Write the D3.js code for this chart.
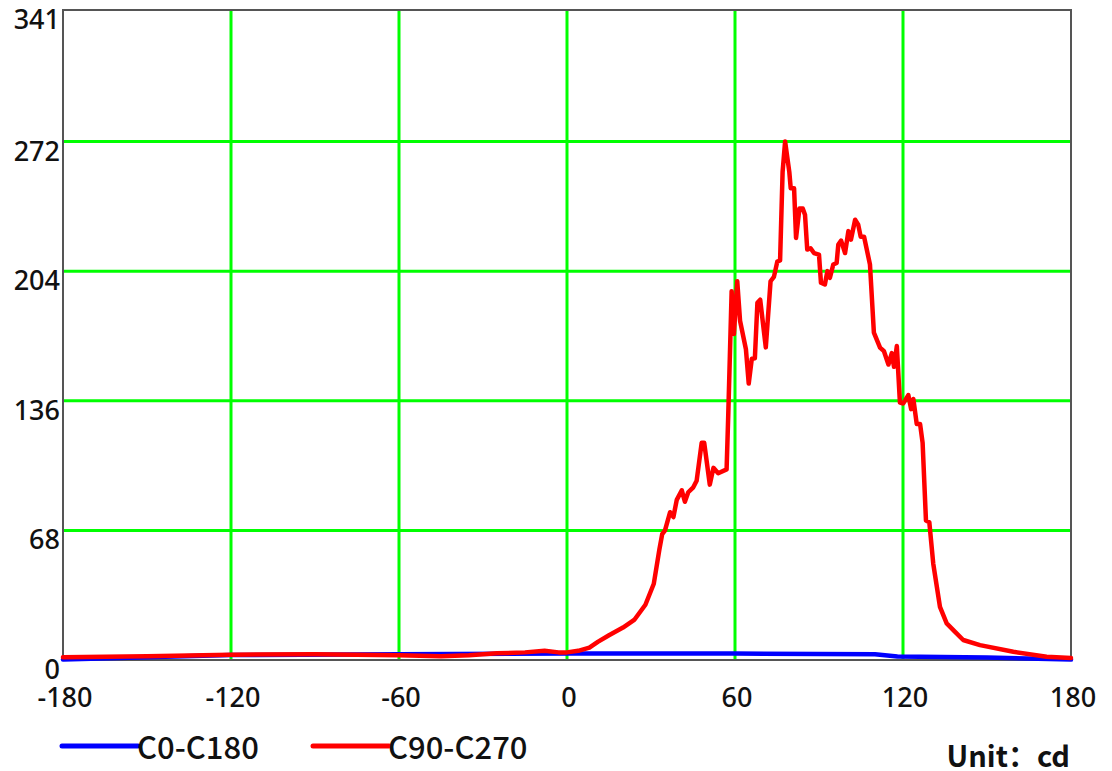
<!DOCTYPE html>
<html lang="en">
<head>
<meta charset="UTF-8">
<title>Light distribution</title>
<script src="https://cdn.jsdelivr.net/npm/d3@7"></script>
<style>
  body { margin: 0; background: #fff; }
  text { font-family: "Noto Sans CJK SC", "Noto Sans", sans-serif; fill: #111; }
  .tick { font-family: "Noto Sans", "DejaVu Sans", sans-serif; }
</style>
</head>
<body>
<script>
// angles (deg) and intensity (cd)
var redAngles = [-180, -150, -120, -90, -60, -45, -35, -25, -15, -8, -3, 0, 4, 8, 11, 15, 20, 24, 28, 31, 33, 34, 35,
  36.8, 38, 39.2, 41, 42.1, 43.3, 45.1, 46.3, 48.1, 49, 51, 52.3, 54, 57, 57.6, 58.8, 59.6, 60.8, 61.8, 63.9, 64.9,
  66, 67.1, 68, 69, 71, 72.7, 73.9, 75.1, 76.1, 77, 77.9, 79.4, 79.9, 81.1, 81.8, 83, 84.2, 85, 85.8, 87, 88.2, 90,
  90.7, 92.1, 93, 93.9, 95.1, 96.3, 96.9, 97.9, 99.3, 100.5, 101.4, 102.9, 104, 104.9, 106.1, 108.2, 109.6, 111.8,
  113.2, 114.8, 116, 116.8, 117.8, 118.9, 120.1, 121.9, 122.9, 123.7, 124.9, 126.1, 127, 128.2, 129.4, 130.8, 133.2,
  135.6, 138.6, 141.5, 147.5, 159.4, 171.3, 180];
var redValues = [1.5, 2, 2.8, 3, 2.5, 2, 2.5, 3.5, 4, 4.8, 4, 4, 4.8, 6.5, 9.5, 13, 17, 21, 29, 40, 58, 66, 68,
  77.5, 75, 84, 89, 83, 88, 90.6, 94, 114, 114, 92, 100.8, 98, 100, 129, 193.5, 171, 198.7, 178, 163, 145,
  158, 158.3, 187.4, 189, 164, 198.7, 201, 209, 209.6, 256, 272, 256, 247.5, 247.5, 221.4, 236.8, 236.8, 233.6, 215.3, 216, 213.5, 212.7,
  197.9, 197, 204, 200.5, 207.5, 208.3, 218, 220, 213.5, 225, 220.5, 231, 228.4, 222, 222, 207.5, 171.7, 163.9,
  162, 155, 161, 153.8, 164.7, 135, 134.6, 139, 131.6, 136.9, 123.8, 123.8, 114, 73.2, 72.3, 50.6, 27.9,
  19.2, 14.8, 10.5, 7.8, 4.3, 1.7, 1];

var blueAngles = [-180, -150, -120, -60, 0, 60, 110, 118, 150, 180];
var blueValues = [0.3, 1.5, 2.6, 3, 3.4, 3.4, 3, 1.8, 1.3, 0.2];

var xTicks = [-180, -120, -60, 0, 60, 120, 180];
var yTicks = [0, 68, 136, 204, 272, 341];

var seriesNames = ["C0-C180", "C90-C270"];
var seriesColors = ["#0000ff", "#ff0000"];

var width = 1112, height = 771;
var plotL = 63, plotR = 1071, plotT = 10, plotB = 660;

var x = d3.scaleLinear().domain([-180, 180]).range([plotL, plotR]);
var y = d3.scaleLinear().domain([0, 341]).range([plotB, plotT]);

var svg = d3.select("body").append("svg")
    .attr("width", width)
    .attr("height", height);

// green grid
svg.append("g")
    .selectAll("line")
    .data(xTicks.filter(d => d > -180 && d < 180))
    .enter().append("line")
    .attr("x1", d => x(d)).attr("x2", d => x(d))
    .attr("y1", plotT).attr("y2", plotB)
    .attr("stroke", "#00ff00").attr("stroke-width", 3);

svg.append("g")
    .selectAll("line")
    .data(yTicks.filter(d => d > 0 && d < 341))
    .enter().append("line")
    .attr("x1", plotL).attr("x2", plotR)
    .attr("y1", d => y(d)).attr("y2", d => y(d))
    .attr("stroke", "#00ff00").attr("stroke-width", 3);

// frame
svg.append("rect")
    .attr("x", plotL).attr("y", plotT)
    .attr("width", plotR - plotL).attr("height", plotB - plotT)
    .attr("fill", "none").attr("stroke", "#555").attr("stroke-width", 2);

// tick labels
svg.append("g")
    .selectAll("text")
    .data(yTicks)
    .enter().append("text")
    .attr("class", "tick")
    .attr("x", plotL - 3)
    .attr("y", d => y(d) + 19)
    .attr("text-anchor", "end")
    .attr("font-size", 27)
    .attr("font-weight", 500)
    .text(d => d);

svg.append("g")
    .selectAll("text")
    .data(xTicks)
    .enter().append("text")
    .attr("class", "tick")
    .attr("x", d => x(d) + 2)
    .attr("y", 707)
    .attr("text-anchor", "middle")
    .attr("font-size", 27)
    .attr("font-weight", 500)
    .text(d => d);

// curves
var line = d3.line()
    .x(d => x(d[0]))
    .y(d => y(d[1]));

var series = [
    d3.zip(blueAngles, blueValues),
    d3.zip(redAngles, redValues)
];

svg.append("g")
    .selectAll("path")
    .data(series)
    .enter().append("path")
    .attr("d", line)
    .attr("fill", "none")
    .attr("stroke", (d, i) => seriesColors[i])
    .attr("stroke-width", 4.5)
    .attr("stroke-linejoin", "round")
    .attr("stroke-linecap", "round");

// legend
var legendX = [62, 313];
var lg = svg.append("g")
    .selectAll("g")
    .data(seriesNames)
    .enter().append("g")
    .attr("transform", (d, i) => "translate(" + legendX[i] + ",746)");

lg.append("line")
    .attr("x1", 0).attr("x2", 76)
    .attr("y1", 0).attr("y2", 0)
    .attr("stroke", (d, i) => seriesColors[i])
    .attr("stroke-width", 5)
    .attr("stroke-linecap", "round");

lg.append("text")
    .attr("x", 75)
    .attr("y", 13)
    .attr("font-size", 31)
    .attr("font-weight", 500)
    .text(d => d);

svg.append("text")
    .attr("x", 1070)
    .attr("y", 767)
    .attr("text-anchor", "end")
    .attr("font-size", 29)
    .attr("font-weight", 700)
    .text("Unit：cd");
</script>
</body>
</html>
